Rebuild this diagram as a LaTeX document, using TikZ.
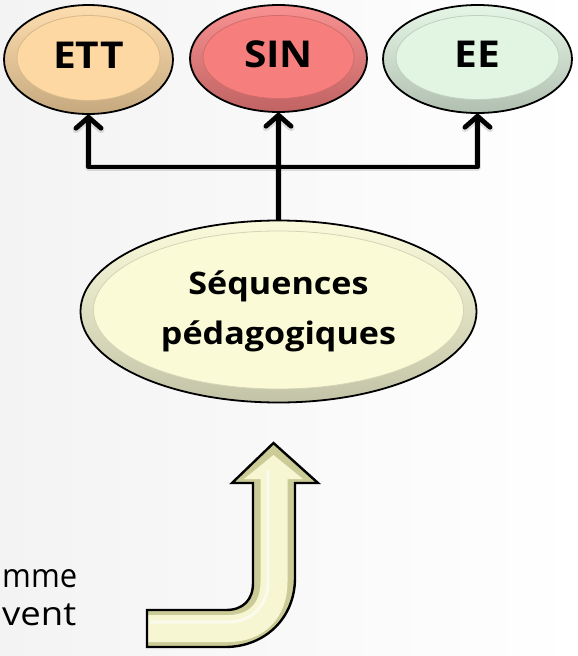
\documentclass[tikz,border=0pt]{standalone}
\usepackage{fontspec}
\setmainfont{Open Sans}[FakeStretch=1.1]
\usetikzlibrary{arrows.meta,shapes.geometric,calc}
\definecolor{bgl}{HTML}{F3F3F3}
\definecolor{ettc}{HTML}{FDD8A2}
\definecolor{sinc}{HTML}{F67F7E}
\definecolor{eec}{HTML}{E2F5E2}
\definecolor{seqc}{HTML}{FAFAD6}
\definecolor{arrc}{HTML}{F6F6D2}
\begin{document}
\begin{tikzpicture}[x=1pt,y=-1pt,
  bev/.style={ellipse, draw=black, line width=1.8pt, inner sep=0pt, outer sep=0pt,
    top color=#1!85!white, bottom color=#1!78!black,
    font=\bfseries\fontsize{37}{48}\selectfont,
    path picture={\path let \p1=(path picture bounding box.north east),
       \p2=(path picture bounding box.center) in
       [fill=#1, draw=#1!85!black, line width=0.8pt]
       ($(\p2)+(0,-1.5)$) ellipse [x radius={\x1-\x2-13pt}, y radius={\y1-\y2-12pt}];}},
  conn/.style={line width=4.8pt, line join=round, -{Straight Barb[length=11pt,width=25pt,line cap=round]}},
  connshadow/.style={conn, draw=black, opacity=0.12, line width=7pt},
  sidetext/.style={font=\fontsize{33}{38}\selectfont, inner sep=0pt, anchor=base west}]
\useasboundingbox (0,0) rectangle (578,656);
\shade[left color=bgl, right color=white] (0,0) rectangle (578,656);

% top ellipses
\node[bev=ettc, minimum width=169, minimum height=109] (ett) at (88.5,59.5) {\raisebox{-8.5pt}[0pt][0pt]{ETT}};
\node[bev=sinc, minimum width=177, minimum height=107] (sin) at (278.5,58.5) {\raisebox{-8.5pt}[0pt][0pt]{SIN}};
\node[bev=eec, minimum width=189, minimum height=108] (ee) at (477.5,59) {\raisebox{-8.5pt}[0pt][0pt]{EE}};

% main ellipse
\node[bev=seqc, minimum width=396, minimum height=182, font=\bfseries\fontsize{31}{50}\selectfont] (seq) at (278.5,311.5) {\raisebox{-4.5pt}[0pt][0pt]{\begin{tabular}{@{}c@{}}Séquences\\pédagogiques\end{tabular}}};

% connectors
\coordinate (hb) at (278.5,167);
\begin{scope}[xshift=3pt,yshift=-4pt]
  \draw[connshadow] (seq.north) -- (sin.south);
  \draw[connshadow] (hb) -| (ett.south);
  \draw[connshadow] (hb) -| (ee.south);
\end{scope}
\draw[conn] (seq.north) -- (sin.south);
\draw[conn] (hb) -| (ett.south);
\draw[conn] (hb) -| (ee.south);

% big bent arrow
\def\arrowpath{(147,610) -- (226,610) .. controls (243,610) and (253,600) .. (253,583) -- (253,483) -- (232,483) -- (273.5,443) -- (318,483) -- (295,483) -- (295,578) .. controls (295,618) and (265,647) .. (225,647) -- (147,647) -- cycle}
\fill[arrc!80!black!90!yellow] \arrowpath;
\begin{scope}
  \clip \arrowpath;
  \draw[arrc, line width=27pt] (140,628.5) -- (228,628.5) .. controls (257,628.5) and (274,610) .. (274,582) -- (274,470);
  \fill[arrc] (273.5,455) -- (244,479) -- (303,479) -- cycle;
  \draw[white, opacity=0.6, line width=3pt] (150,622) -- (228,622) .. controls (252,622) and (268,605) .. (268,582) -- (268,470);
\end{scope}
\draw[black, line width=2.4pt, line join=miter] \arrowpath;

% side texts (ends of longer words, at the left edge)
\node[sidetext] (t1) at (2,587) {\resizebox{75pt}{\height}{mme}};
\node[sidetext] (t2) at (2,625) {\resizebox{74pt}{\height}{vent}};
\end{tikzpicture}
\end{document}
